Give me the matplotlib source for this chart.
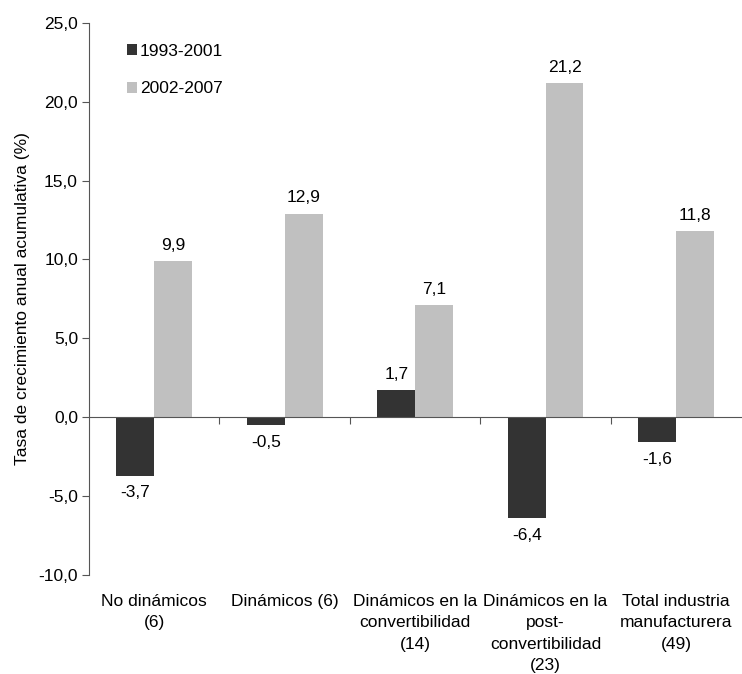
import numpy as np
import matplotlib
matplotlib.use("Agg")
import matplotlib.pyplot as plt
from matplotlib.transforms import blended_transform_factory

plt.rcParams["font.family"] = ["Liberation Sans", "DejaVu Sans"]

# datos
categorias = [
    "No dinámicos\n(6)",
    "Dinámicos (6)",
    "Dinámicos en la\nconvertibilidad\n(14)",
    "Dinámicos en la\npost-\nconvertibilidad\n(23)",
    "Total industria\nmanufacturera\n(49)",
]
periodo_1 = [-3.7, -0.5, 1.7, -6.4, -1.6]
periodo_2 = [9.9, 12.9, 7.1, 21.2, 11.8]
series = ["1993-2001", "2002-2007"]

oscuro = "#333333"
claro = "#c0c0c0"
fs = 12.5

fig = plt.figure(figsize=(7.42, 6.74), dpi=100)
ax = fig.add_axes([0.12, 0.147, 0.879, 0.819])

x = np.arange(len(categorias))
w = 0.29
b1 = ax.bar(x - w / 2, periodo_1, w, color=oscuro, label=series[0])
b2 = ax.bar(x + w / 2, periodo_2, w, color=claro, label=series[1])

def fmt(v):
    return f"{v:.1f}".replace(".", ",")

for barras, vals in ((b1, periodo_1), (b2, periodo_2)):
    for r, v in zip(barras, vals):
        cx = r.get_x() + r.get_width() / 2
        if v >= 0:
            ax.annotate(fmt(v), (cx, v), xytext=(0, 6), textcoords="offset points",
                        ha="center", va="bottom", fontsize=fs)
        else:
            ax.annotate(fmt(v), (cx, v), xytext=(0, -7), textcoords="offset points",
                        ha="center", va="top", fontsize=fs)

ax.set_xlim(-0.5, len(categorias) - 0.5)
ax.set_ylim(-10, 25)
ax.set_yticks(np.arange(-10, 26, 5))
ax.set_yticklabels([fmt(v) for v in np.arange(-10, 26, 5)], fontsize=fs)

# eje x sobre el cero, marcas entre categorias
ax.spines["bottom"].set_position(("data", 0))
ax.spines["top"].set_visible(False)
ax.spines["right"].set_visible(False)
ax.spines["left"].set_color("#555555")
ax.spines["bottom"].set_color("#555555")
ax.set_xticks(np.arange(0.5, len(categorias) - 0.5, 1))
ax.set_xticklabels([])
ax.tick_params(axis="x", direction="out", length=5, color="#555555")
ax.tick_params(axis="y", direction="out", length=5, color="#555555", pad=3)

trans = blended_transform_factory(ax.transData, ax.transAxes)
for xi, cat in zip(x, categorias):
    ax.text(xi, -0.034, cat, transform=trans, ha="center", va="top",
            fontsize=fs, linespacing=1.55)

ax.set_ylabel("Tasa de crecimiento anual acumulativa (%)", fontsize=fs, labelpad=6)

ax.legend(loc="upper left", bbox_to_anchor=(0.047, 0.975), frameon=False,
          fontsize=fs, handlelength=0.6, handleheight=0.6, handletextpad=0.15,
          labelspacing=1.3, borderaxespad=0)

fig.savefig("out.png", dpi=100)
